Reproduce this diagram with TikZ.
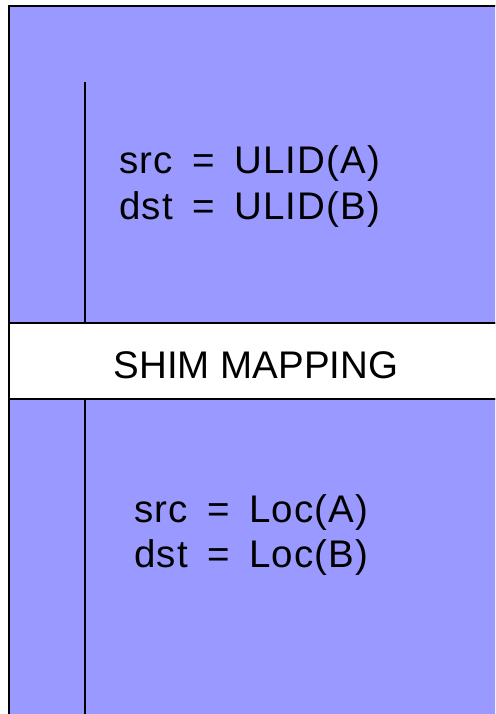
\documentclass[tikz,border=0pt]{standalone}
\usepackage{fontspec}
\setmainfont{Liberation Sans}
\newfontfamily\eqfont[LetterSpace=3]{Liberation Sans}
\definecolor{lav}{RGB}{153,153,255}
\begin{document}
\begin{tikzpicture}[x=1pt,y=-1pt,
  panel/.style={fill=lav,draw=black,line width=2pt},
  band/.style={fill=white,draw=black,line width=2pt},
  rule/.style={draw=black,line width=2pt},
  lbl/.style={font=\fontsize{38.5}{45}\selectfont,inner sep=0pt,anchor=base west},
  eq/.style={lbl,font=\eqfont\fontsize{38.5}{45}\selectfont}]
\clip (0,0) rectangle (495,714);
\draw[panel] (9,6) rectangle (510,323);
\draw[band] (9,323) rectangle (510,399);
\draw[panel] (9,399) rectangle (510,730);
\coordinate (v1a) at (85,82);
\coordinate (v1b) at (85,323);
\coordinate (v2a) at (85,399);
\coordinate (v2b) at (85,730);
\draw[rule] (v1a) -- (v1b);
\draw[rule] (v2a) -- (v2b);
\node[eq] (u1) at (119,174) {src\hspace{20pt}=\hspace{19pt}ULID(A)};
\node[eq] (u2) at (119,219) {dst\hspace{20pt}=\hspace{19pt}ULID(B)};
\node[lbl,anchor=base] (shim) at (256,378) {SHIM MAPPING};
\node[eq] (l1) at (134,522) {src\hspace{20pt}=\hspace{19pt}Loc(A)};
\node[eq] (l2) at (134,567) {dst\hspace{20pt}=\hspace{19pt}Loc(B)};
\end{tikzpicture}
\end{document}
